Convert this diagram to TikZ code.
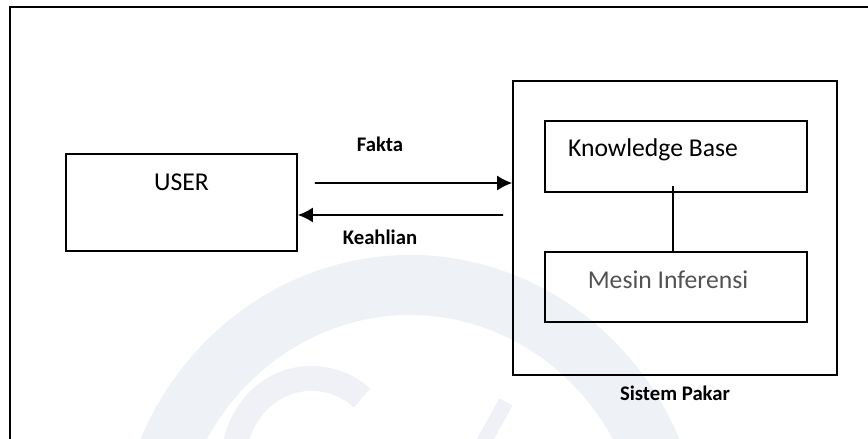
\documentclass[tikz,border=0pt]{standalone}
\usepackage{fontspec}
\setmainfont{Carlito}
\usepackage{xcolor}
\usepackage{tikz}
\usetikzlibrary{arrows.meta}
\usetikzlibrary{positioning}
\definecolor{wasserzeichen}{RGB}{140,158,192}
\tikzset{
  Kasten/.style={draw,line width=1pt,minimum width=#1}, % für Kästen
  Pfeil/.style={line width=1pt,->}, % für Pfeile
  Beschriftung/.style={font=\fontsize{11.8}{14}\selectfont\bfseries}, % für Pfeiltexte
  Text/.style={font=\fontsize{14.6}{17}\selectfont} % für Kastentexte
}

\begin{document}
\begin{tikzpicture}[
x=0.02cm, y=-0.02cm,
>={Latex[length=3mm,width=3mm]} % Voreinstellung für Pfeilspitzen
]
\useasboundingbox (0,0) rectangle (868,439);

%Wasserzeichen
\begin{scope}
\clip (0,0) rectangle (868,439);
\draw[wasserzeichen, opacity=.15, line width=1.2cm] (410,565) ++(200:265 and 280) arc[start angle=200, end angle=340, x radius=265, y radius=280];
\draw[wasserzeichen, opacity=.14, line width=0.5cm] (235,445) .. controls (250,378) and (320,360) .. (362,398);
\draw[wasserzeichen, opacity=.14, line width=0.3cm] (506,402) -- (482,445);
\end{scope}

%Rahmen
\draw[line width=1.1pt] (10,439) -- (10,7) -- (868,7);

%Kästen
\node[Kasten=4.62cm, minimum height=1.94cm] (user) at (181.5,202.5) {};
\node[Kasten=6.48cm, minimum height=5.88cm] (pakar) at (675,228) {};
\node[Kasten=5.24cm, minimum height=1.42cm] (kb) at (676,156.5) {};
\node[Kasten=5.24cm, minimum height=1.40cm] (mesin) at (676,287) {};

%Kastentexte
\node[Text] (userText) at ([yshift=-0.58cm]user.north) {USER};
\node[Text] (kbText) at ([xshift=-0.46cm, yshift=0.13cm]kb.center) {Knowledge Base};
\node[Text, text=black!68] (mesinText) at ([xshift=-0.16cm, yshift=0.14cm]mesin.center) {Mesin Inferensi};
\node[Beschriftung] (pakarText) at ([yshift=-0.34cm]pakar.south) {Sistem Pakar};

%Pfeile
\draw[Pfeil] ([xshift=0.34cm, yshift=0.39cm]user.east) -- ([yshift=0.9cm]pakar.west);
\draw[Pfeil] ([xshift=-0.18cm, yshift=0.26cm]pakar.west) -- ([yshift=-0.25cm]user.east);
\node[Beschriftung] (fakta) at (380,144) {Fakta};
\node[Beschriftung] (keahlian) at (380,237) {Keahlian};

%Verbindung
\draw[line width=1pt] ([xshift=-0.06cm, yshift=0.14cm]kb.south) -- ([xshift=-0.06cm]mesin.north);

\end{tikzpicture}
\end{document}
